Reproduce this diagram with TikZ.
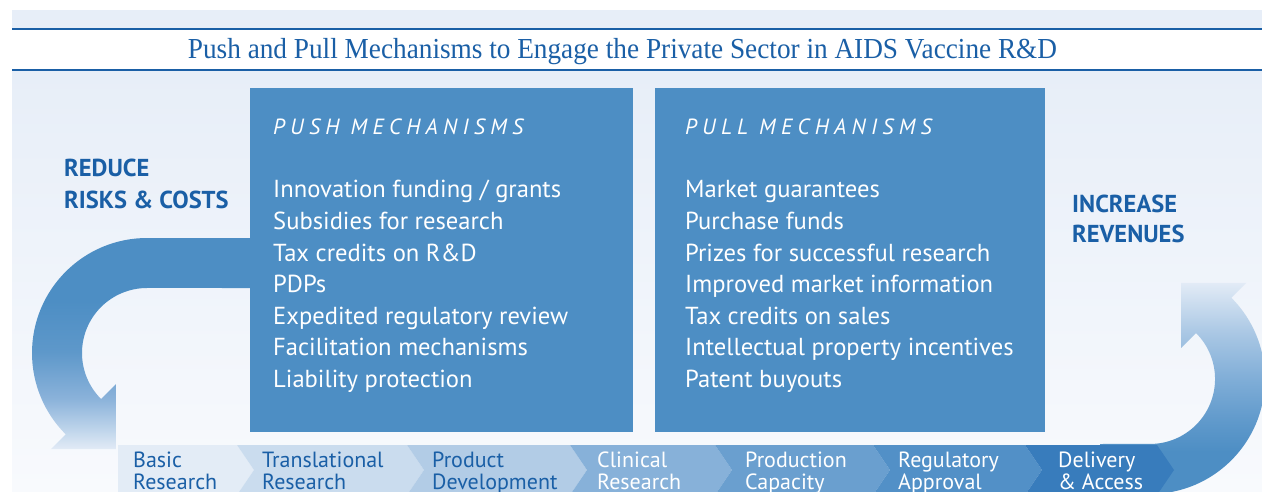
\documentclass[tikz,border=0pt]{standalone}
\usepackage{fontspec}
\setmainfont{PT Sans}
\newfontfamily\titlefont{Liberation Serif}
\newfontfamily\headfont[LetterSpace=24]{PT Sans}
\definecolor{titleblue}{HTML}{1A5FA6}
\definecolor{boxblue}{HTML}{4D8EC4}
\definecolor{bgtop}{HTML}{E7EEF8}
\definecolor{bgbot}{HTML}{F8FAFD}
\definecolor{cA}{HTML}{E3ECF6}
\definecolor{cB}{HTML}{CADCEE}
\definecolor{cC}{HTML}{B2CCE6}
\definecolor{cD}{HTML}{87B1D9}
\definecolor{cE}{HTML}{6A9FCF}
\definecolor{cF}{HTML}{5290C7}
\definecolor{cG}{HTML}{387CBC}
\definecolor{fA}{HTML}{E2EBF6}
\definecolor{fB}{HTML}{BCD3EA}
\definecolor{fC}{HTML}{8AB2DA}
\definecolor{fD}{HTML}{5E98CA}
\definecolor{fE}{HTML}{A9C7E4}
\definecolor{fF}{HTML}{7FADD7}
\definecolor{fG}{HTML}{5F99CB}
\pgfdeclareverticalshading{leftfade}{100bp}{color(0bp)=(fA); color(25bp)=(fA); color(30bp)=(fB); color(37bp)=(fC); color(48bp)=(fD); color(60bp)=(boxblue); color(100bp)=(boxblue)}
\pgfdeclareverticalshading{rightfade}{100bp}{color(0bp)=(boxblue); color(35bp)=(boxblue); color(42bp)=(fG); color(52bp)=(fF); color(63bp)=(fE); color(75bp)=(fA); color(100bp)=(fA)}
\tikzset{
  item/.style={anchor=base west, inner sep=0pt, text=white, font=\fontsize{24.6}{28}\selectfont},
  head/.style={anchor=base west, inner sep=0pt, text=white, font=\headfont\itshape\fontsize{22}{25}\selectfont},
  side/.style={anchor=base west, inner sep=0pt, text=titleblue, font=\bfseries\fontsize{24.5}{28}\selectfont},
  chev/.style={anchor=base west, inner sep=0pt, font=\fontsize{22}{22}\selectfont, align=left},
  panel/.style={fill=boxblue, inner sep=0pt, anchor=south west}
}
\begin{document}
\begin{tikzpicture}[x=1pt,y=1pt]
\useasboundingbox (0,0) rectangle (1262,491);
\clip (0,0) rectangle (1262,491);
% background
\fill[bgtop] (12,463) rectangle (1262,481);
\fill[white] (12,421) rectangle (1262,462);
\shade[top color=bgtop, bottom color=bgbot] (12,0) rectangle (1262,420);
\draw[titleblue, line width=2pt] (12,462) -- (1262,462);
\draw[titleblue, line width=2pt] (12,421) -- (1262,421);
\node[anchor=base, inner sep=0pt, text=titleblue, font=\titlefont\fontsize{29}{32}\selectfont, xscale=0.94] (title) at (622.5,432) {Push and Pull Mechanisms to Engage the Private Sector in AIDS Vaccine R\&D};
% left arrow
\shade[shading=leftfade] (260,253) -- (147,253) arc[start angle=90, end angle=225, radius=115] -- (50.8,41.8) -- (115.9,41.9) -- (115.9,106.9) -- (101.04,92.04) arc[start angle=225, end angle=90, radius=65] -- (260,203) -- cycle;
% right arrow
\shade[shading=rightfade] (1100,-3) -- (1150,-3) arc[start angle=-90, end angle=45, radius=115] -- (1246.2,208.2) -- (1181.1,208.1) -- (1181.1,143.1) -- (1196,158) arc[start angle=45, end angle=-90, radius=65] -- (1100,47) -- cycle;
% boxes
\node[panel, minimum width=383pt, minimum height=344pt] (push) at (250,59) {};
\node[panel, minimum width=390pt, minimum height=344pt] (pull) at (655,59) {};
\node[head] (pushh) at (273,356) {PUSH MECHANISMS};
\node[head] (pullh) at (685,356) {PULL MECHANISMS};
\node[item] (p1) at (273,293) {Innovation funding / grants};
\node[item] (p2) at (273,261.5) {Subsidies for research};
\node[item] (p3) at (273,230) {Tax credits on R\&D};
\node[item] (p4) at (273,198.5) {PDPs};
\node[item] (p5) at (273,167) {Expedited regulatory review};
\node[item] (p6) at (273,135.5) {Facilitation mechanisms};
\node[item] (p7) at (273,104) {Liability protection};
\node[item] (q1) at (685,293) {Market guarantees};
\node[item] (q2) at (685,261.5) {Purchase funds};
\node[item] (q3) at (685,230) {Prizes for successful research};
\node[item] (q4) at (685,198.5) {Improved market information};
\node[item] (q5) at (685,167) {Tax credits on sales};
\node[item] (q6) at (685,135.5) {Intellectual property incentives};
\node[item] (q7) at (685,104) {Patent buyouts};
% side labels
\node[side] (red1) at (64,314) {REDUCE};
\node[side] (red2) at (64,283) {RISKS \& COSTS};
\node[side] (inc1) at (1072,279) {INCREASE};
\node[side] (inc2) at (1072,248) {REVENUES};
% chevrons
\fill[cA] (118,46) -- (237,46) -- (254,21) -- (237,-4) -- (118,-4) -- cycle;
\fill[cB] (237,46) -- (407,46) -- (424,21) -- (407,-4) -- (237,-4) -- (254,21) -- cycle;
\fill[cC] (407,46) -- (570,46) -- (587,21) -- (570,-4) -- (407,-4) -- (424,21) -- cycle;
\fill[cD] (570,46) -- (715,46) -- (732,21) -- (715,-4) -- (570,-4) -- (587,21) -- cycle;
\fill[cE] (715,46) -- (873,46) -- (890,21) -- (873,-4) -- (715,-4) -- (732,21) -- cycle;
\fill[cF] (873,46) -- (1025,46) -- (1042,21) -- (1025,-4) -- (873,-4) -- (890,21) -- cycle;
\fill[cG] (1025,46) -- (1157,46) -- (1174,21) -- (1157,-4) -- (1025,-4) -- (1042,21) -- cycle;
\node[chev, text=titleblue] (s1) at (133,2) {Basic\\Research};
\node[chev, text=titleblue] (s2) at (262,2) {Translational\\Research};
\node[chev, text=titleblue] (s3) at (432,2) {Product\\Development};
\node[chev, text=white] (s4) at (597,2) {Clinical\\Research};
\node[chev, text=white] (s5) at (745,2) {Production\\Capacity};
\node[chev, text=white] (s6) at (898,2) {Regulatory\\Approval};
\node[chev, text=white] (s7) at (1058,2) {Delivery\\\& Access};
\end{tikzpicture}
\end{document}
